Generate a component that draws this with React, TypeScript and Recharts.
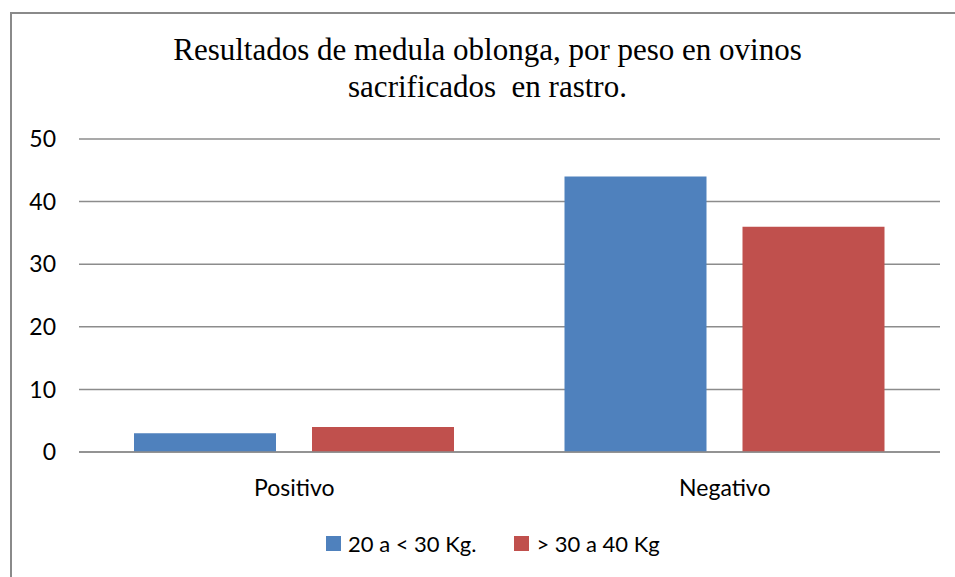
import { BarChart, Bar, XAxis, YAxis, CartesianGrid } from 'recharts'

// categories and series
const categories = ['Positivo', 'Negativo']
const peso20a30 = [3, 44]
const peso30a40 = [4, 36]
const yTicks = [0, 10, 20, 30, 40, 50]

const seriesNames = ['20 a < 30 Kg.', '> 30 a 40 Kg']
const seriesColors = ['#4F81BD', '#C0504D']
const titleLines = ['Resultados de medula oblonga, por peso en ovinos', 'sacrificados  en rastro.']

const data = categories.map((name, i) => ({
  name,
  a: peso20a30[i],
  b: peso30a40[i],
}))

const sans = 'Lato, "Liberation Sans", sans-serif'

export default function App() {
  return (
    <div style={{ position: 'absolute', left: 0, top: 0, width: 955, height: 577, overflow: 'hidden', background: '#fff' }}>
      {/* outer chart frame, cropped at right/bottom like the screenshot */}
      <div style={{ position: 'absolute', left: 10, top: 12, width: 960, height: 580, border: '2px solid #8a8a8a', boxSizing: 'border-box' }} />

      {/* Title */}
      <div style={{
        position: 'absolute', left: 0, top: 31, width: 975, textAlign: 'center',
        fontFamily: '"Liberation Serif", "Times New Roman", serif', fontSize: 31, lineHeight: '37px', color: '#000',
      }}>
        {titleLines.map(l => <div key={l} style={{ whiteSpace: 'pre' }}>{l}</div>)}
      </div>

      <div style={{ position: 'absolute', left: 0, top: 0 }}>
        <BarChart
          width={955}
          height={577}
          data={data}
          margin={{ top: 139, right: 15, bottom: 85, left: 0 }}
          barCategoryGap={55}
          barGap={36}
        >
          <CartesianGrid vertical={false} stroke="#8c8c8c" strokeWidth={1.5} />
          <XAxis
            dataKey="name"
            height={40}
            axisLine={{ stroke: '#8c8c8c', strokeWidth: 1.5 }}
            tickLine={false}
            tickMargin={22}
            tick={{ fill: '#000', fontSize: 23, fontFamily: sans }}
          />
          <YAxis
            width={79}
            domain={[0, 50]}
            ticks={yTicks}
            axisLine={false}
            tickLine={false}
            tickMargin={17}
            tick={{ fill: '#000', fontSize: 23, fontFamily: sans }}
          />
          <Bar dataKey="a" name={seriesNames[0]} fill={seriesColors[0]} isAnimationActive={false} />
          <Bar dataKey="b" name={seriesNames[1]} fill={seriesColors[1]} isAnimationActive={false} />
        </BarChart>
      </div>

      {/* Legend */}
      <div style={{ position: 'absolute', left: 326, top: 530, display: 'flex', alignItems: 'center', fontFamily: sans, fontSize: 22, color: '#000' }}>
        {seriesNames.map((n, i) => (
          <div key={n} style={{ display: 'flex', alignItems: 'center', marginRight: 38 }}>
            <span style={{ display: 'inline-block', width: 15, height: 15, background: seriesColors[i], marginRight: 7 }} />
            <span style={{ whiteSpace: 'pre' }}>{n}</span>
          </div>
        ))}
      </div>
    </div>
  )
}
